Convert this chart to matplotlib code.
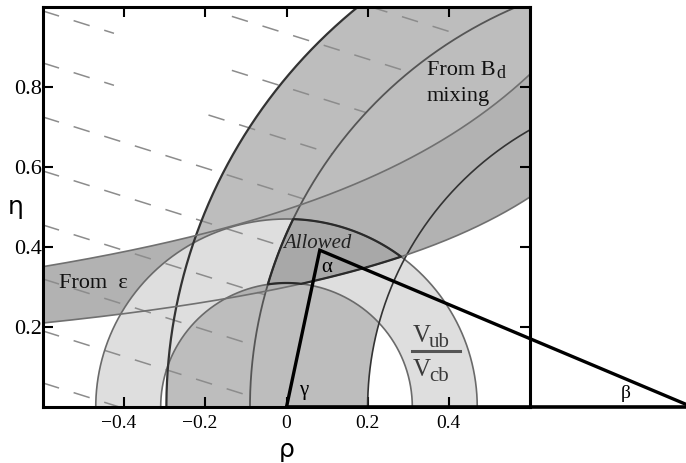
import numpy as np
import matplotlib
matplotlib.use('Agg')
import matplotlib.pyplot as plt
from matplotlib.transforms import ScaledTranslation

# ---------------- data ----------------
rho_lim = (-0.6, 0.6)
eta_lim = (0.0, 1.0)
rho_ticks = [-0.4, -0.2, 0.0, 0.2, 0.4]
rho_ticklabels = ['\u22120.4', '\u22120.2', '0', '0.2', '0.4']
eta_ticks = [0.2, 0.4, 0.6, 0.8]
eta_ticklabels = ['0.2', '0.4', '0.6', '0.8']

vub_radii = [0.31, 0.47]            # |Vub/Vcb| annulus about (0, 0)
bd_center = (1.0, 0.0)
bd_radii = [0.80, 1.09, 1.296]      # B_d mixing circles about (1, 0)
eps_upper = (1.475, 0.728)          # eta * (a - rho) = k
eps_lower = (1.40, 0.42)
apex = (0.082, 0.392)               # (rho, eta) of triangle apex
base_end = (1.0, 0.0)

dash_slope = -0.319
dash_eta_at_left = [1.258, 1.125, 0.99, 0.86, 0.725, 0.59, 0.455, 0.32, 0.19, 0.06]
dash_gap_rho = (-0.425, -0.135)
dash_gap_eta = 0.73

# ---------------- figure ----------------
W, H = 686, 463
fig = plt.figure(figsize=(W / 100, H / 100), dpi=100)
ax = fig.add_axes([43 / W, 56 / H, 487 / W, 400 / H])
ax.set_xlim(*rho_lim)
ax.set_ylim(*eta_lim)

rho = np.linspace(rho_lim[0], rho_lim[1], 1201)
eta = np.linspace(eta_lim[0], eta_lim[1], 1001)
R, E = np.meshgrid(rho, eta)
r_v = np.hypot(R, E)
r_b = np.hypot(R - bd_center[0], E - bd_center[1])
eta_up = eps_upper[1] / (eps_upper[0] - R)
eta_lo = eps_lower[1] / (eps_lower[0] - R)

f_bd = np.minimum(r_b - bd_radii[0], bd_radii[2] - r_b)
f_eps = np.minimum(E - eta_lo, eta_up - E)
f_vub = np.minimum(r_v - vub_radii[0], vub_radii[1] - r_v)
f_all = np.minimum.reduce([f_vub, f_eps, r_b - bd_radii[0], bd_radii[1] - r_b])

c_bd, c_eps, c_vub, c_all = '#bdbdbd', '#b2b2b2', '#dedede', '#a8a8a8'
for f, c in [(f_bd, c_bd), (f_eps, c_eps), (f_vub, c_vub), (f_all, c_all)]:
    ax.contourf(R, E, f, levels=[0, 10], colors=[c], antialiased=True, zorder=1)

# dashed hatch lines (outside the central B_d circle)
rd = np.linspace(rho_lim[0], rho_lim[1], 3000)
for c0 in dash_eta_at_left:
    ed = c0 + dash_slope * (rd - rho_lim[0])
    bad = (np.hypot(rd - bd_center[0], ed) < bd_radii[1]) | (ed > 1.0) | (ed < 0.0)
    bad |= (rd > dash_gap_rho[0]) & (rd < dash_gap_rho[1]) & (ed > dash_gap_eta)
    ed = np.where(bad, np.nan, ed)
    ax.plot(rd, ed, color='#8c8c8c', lw=1.1, dashes=(11, 10), zorder=2)

# constraint curves
th = np.linspace(0, np.pi, 1500)
for r, col, lw in [(vub_radii[0], '#6a6a6a', 1.2), (vub_radii[1], '#6a6a6a', 1.2)]:
    ax.plot(r * np.cos(th), r * np.sin(th), color=col, lw=lw, zorder=3)
for r, col, lw in [(bd_radii[0], '#333333', 1.2), (bd_radii[1], '#555555', 1.3),
                   (bd_radii[2], '#333333', 1.6)]:
    ax.plot(bd_center[0] + r * np.cos(th), r * np.sin(th), color=col, lw=lw, zorder=3)
ax.plot(rho, eps_upper[1] / (eps_upper[0] - rho), color='#707070', lw=1.2, zorder=3)
ax.plot(rho, eps_lower[1] / (eps_lower[0] - rho), color='#707070', lw=1.2, zorder=3)
ax.contour(R, E, f_all, levels=[0], colors='#2a2a2a', linewidths=1.6, zorder=4)

# unitarity triangle
ax.plot([0, apex[0], base_end[0]], [0, apex[1], base_end[1]], color='k', lw=2.4,
        clip_on=False, zorder=6, solid_joinstyle='miter')
ax.plot([0, base_end[0]], [0, 0], color='k', lw=2.6, clip_on=False, zorder=6)

# axes styling
for s in ax.spines.values():
    s.set_linewidth(2.2)
    s.set_zorder(7)
ax.tick_params(direction='in', length=7, width=1.5, top=True, right=True)
ax.tick_params(axis='x', pad=6)
ax.tick_params(axis='y', pad=1)
ax.set_xticks(rho_ticks)
ax.set_xticklabels(rho_ticklabels, family='Liberation Serif', fontsize=14)
ax.set_yticks(eta_ticks)
ax.set_yticklabels(eta_ticklabels, family='Liberation Serif', fontsize=16)
# let the minus sign hang to the left of the centred number
for lbl in ax.get_xticklabels():
    if lbl.get_text().startswith('\u2212'):
        lbl.set_transform(lbl.get_transform() + ScaledTranslation(-0.06, 0, fig.dpi_scale_trans))

ax.set_xlabel('\u03c1', fontsize=18, family='DejaVu Sans', va='baseline')
ax.xaxis.set_label_coords(0.5, -0.125)
ax.set_ylabel('\u03b7', fontsize=18, family='DejaVu Sans', rotation=0, va='baseline', ha='center')
ax.yaxis.set_label_coords(-0.0565, 0.4825)

serif = 'Liberation Serif'
ax.text(0.077, 0.41, 'Allowed', family=serif, style='italic', fontsize=15,
        ha='center', va='center', color='#222222', zorder=8)
ax.text(0.099, 0.35, '\u03b1', family=serif, fontsize=15, ha='center', va='center', zorder=8)
ax.text(0.042, 0.04, '\u03b3', family=serif, fontsize=15, ha='center', va='center', zorder=8)
ax.text(0.835, 0.033, '\u03b2', family=serif, fontsize=14, ha='center', va='center',
        clip_on=False, zorder=8)
ax.text(-0.477, 0.31, 'From  \u03b5', family=serif, fontsize=16, ha='center', va='center',
        color='#111111', zorder=8)
t = ax.text(0.346, 0.83, 'From B', family=serif, fontsize=16, ha='left', va='baseline',
            color='#111111', zorder=8)
ax.annotate('d', xy=(1, 0), xycoords=t, xytext=(0.5, 1.5), textcoords='offset points',
            family=serif, fontsize=13, ha='left', va='baseline', color='#111111', zorder=8)
ax.text(0.346, 0.765, 'mixing', family=serif, fontsize=16, ha='left', va='baseline',
        color='#111111', zorder=8)

tv = ax.text(0.31, 0.163, 'V', family=serif, fontsize=18, ha='left', va='baseline',
             color='#3a3a3a', zorder=8)
ax.annotate('ub', xy=(1, 0), xycoords=tv, xytext=(-1, 0), textcoords='offset points',
            family=serif, fontsize=15, ha='left', va='baseline', color='#3a3a3a', zorder=8)
ax.plot([0.309, 0.427], [0.14, 0.14], color='#555555', lw=2.2, zorder=8)
tc = ax.text(0.31, 0.077, 'V', family=serif, fontsize=18, ha='left', va='baseline',
             color='#3a3a3a', zorder=8)
ax.annotate('cb', xy=(1, 0), xycoords=tc, xytext=(-1, 0), textcoords='offset points',
            family=serif, fontsize=15, ha='left', va='baseline', color='#3a3a3a', zorder=8)

fig.savefig('out.png', dpi=100)
